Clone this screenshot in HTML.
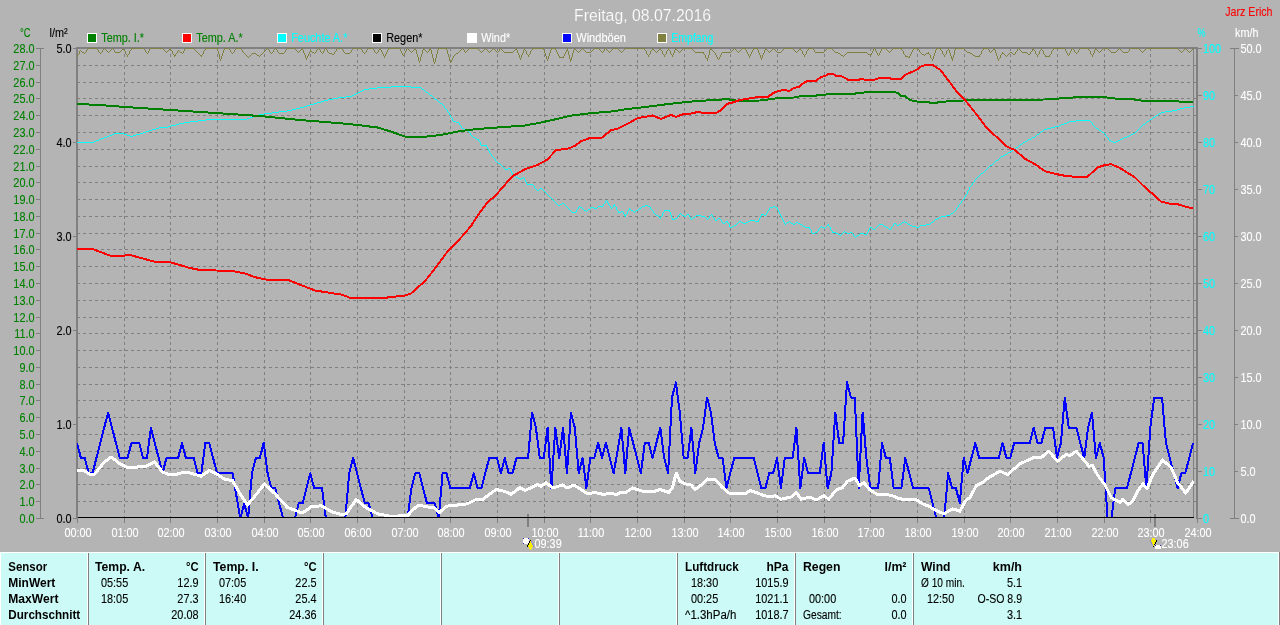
<!DOCTYPE html>
<html lang="de"><head><meta charset="utf-8"><title>Freitag, 08.07.2016</title>
<style>
html,body{margin:0;padding:0;background:#b4b4b4;overflow:hidden}
svg{display:block}
text{font-family:"Liberation Sans",Arial,sans-serif;font-size:12.5px;stroke-width:0.12px;stroke-linejoin:round}
.b{font-weight:bold}
</style></head><body>
<svg width="1280" height="625" viewBox="0 0 1280 625">
<rect x="0" y="0" width="1280" height="625" fill="#b4b4b4"/>
<g shape-rendering="crispEdges" stroke="#808080" stroke-width="1" fill="none">
<path stroke-dasharray="3 3" d="M77 65.5H1193M77 82.5H1193M77 98.5H1193M77 115.5H1193M77 132.5H1193M77 149.5H1193M77 166.5H1193M77 182.5H1193M77 199.5H1193M77 216.5H1193M77 233.5H1193M77 249.5H1193M77 266.5H1193M77 283.5H1193M77 300.5H1193M77 317.5H1193M77 333.5H1193M77 350.5H1193M77 367.5H1193M77 384.5H1193M77 400.5H1193M77 417.5H1193M77 434.5H1193M77 451.5H1193M77 468.5H1193M77 484.5H1193M77 501.5H1193"/>
<path stroke-dasharray="3 3" d="M124.5 48V517M170.5 48V517M217.5 48V517M264.5 48V517M310.5 48V517M357.5 48V517M404.5 48V517M450.5 48V517M497.5 48V517M544.5 48V517M590.5 48V517M637.5 48V517M684.5 48V517M730.5 48V517M777.5 48V517M824.5 48V517M870.5 48V517M917.5 48V517M964.5 48V517M1010.5 48V517M1057.5 48V517M1104.5 48V517M1150.5 48V517"/>
</g>
<g shape-rendering="crispEdges">
<rect x="76" y="47" width="1122" height="2" fill="#808080"/>
<rect x="76" y="47" width="2" height="472" fill="#808080"/>
<rect x="1196" y="47" width="2" height="472" fill="#808080"/>
<rect x="1193" y="49" width="1" height="469" fill="#808080"/>
<rect x="40" y="48" width="1" height="470" fill="#808080"/>
<rect x="36" y="518" width="8" height="1" fill="#808080"/>
<rect x="36" y="501" width="4" height="1" fill="#808080"/>
<rect x="36" y="484" width="4" height="1" fill="#808080"/>
<rect x="36" y="468" width="4" height="1" fill="#808080"/>
<rect x="36" y="451" width="4" height="1" fill="#808080"/>
<rect x="36" y="434" width="4" height="1" fill="#808080"/>
<rect x="36" y="417" width="4" height="1" fill="#808080"/>
<rect x="36" y="400" width="4" height="1" fill="#808080"/>
<rect x="36" y="384" width="4" height="1" fill="#808080"/>
<rect x="36" y="367" width="4" height="1" fill="#808080"/>
<rect x="36" y="350" width="4" height="1" fill="#808080"/>
<rect x="36" y="333" width="4" height="1" fill="#808080"/>
<rect x="36" y="317" width="4" height="1" fill="#808080"/>
<rect x="36" y="300" width="4" height="1" fill="#808080"/>
<rect x="36" y="283" width="4" height="1" fill="#808080"/>
<rect x="36" y="266" width="4" height="1" fill="#808080"/>
<rect x="36" y="249" width="4" height="1" fill="#808080"/>
<rect x="36" y="233" width="4" height="1" fill="#808080"/>
<rect x="36" y="216" width="4" height="1" fill="#808080"/>
<rect x="36" y="199" width="4" height="1" fill="#808080"/>
<rect x="36" y="182" width="4" height="1" fill="#808080"/>
<rect x="36" y="166" width="4" height="1" fill="#808080"/>
<rect x="36" y="149" width="4" height="1" fill="#808080"/>
<rect x="36" y="132" width="4" height="1" fill="#808080"/>
<rect x="36" y="115" width="4" height="1" fill="#808080"/>
<rect x="36" y="98" width="4" height="1" fill="#808080"/>
<rect x="36" y="82" width="4" height="1" fill="#808080"/>
<rect x="36" y="65" width="4" height="1" fill="#808080"/>
<rect x="36" y="48" width="8" height="1" fill="#808080"/>
<rect x="73" y="518" width="4" height="1" fill="#808080"/>
<rect x="73" y="424" width="4" height="1" fill="#808080"/>
<rect x="73" y="330" width="4" height="1" fill="#808080"/>
<rect x="73" y="236" width="4" height="1" fill="#808080"/>
<rect x="73" y="142" width="4" height="1" fill="#808080"/>
<rect x="73" y="48" width="4" height="1" fill="#808080"/>
<rect x="1197" y="518" width="5" height="1" fill="#808080"/>
<rect x="1197" y="471" width="5" height="1" fill="#808080"/>
<rect x="1197" y="424" width="5" height="1" fill="#808080"/>
<rect x="1197" y="377" width="5" height="1" fill="#808080"/>
<rect x="1197" y="330" width="5" height="1" fill="#808080"/>
<rect x="1197" y="283" width="5" height="1" fill="#808080"/>
<rect x="1197" y="236" width="5" height="1" fill="#808080"/>
<rect x="1197" y="189" width="5" height="1" fill="#808080"/>
<rect x="1197" y="142" width="5" height="1" fill="#808080"/>
<rect x="1197" y="95" width="5" height="1" fill="#808080"/>
<rect x="1197" y="48" width="5" height="1" fill="#808080"/>
<rect x="1193" y="65" width="4" height="1" fill="#808080"/>
<rect x="1193" y="82" width="4" height="1" fill="#808080"/>
<rect x="1193" y="98" width="4" height="1" fill="#808080"/>
<rect x="1193" y="115" width="4" height="1" fill="#808080"/>
<rect x="1193" y="132" width="4" height="1" fill="#808080"/>
<rect x="1193" y="149" width="4" height="1" fill="#808080"/>
<rect x="1193" y="166" width="4" height="1" fill="#808080"/>
<rect x="1193" y="182" width="4" height="1" fill="#808080"/>
<rect x="1193" y="199" width="4" height="1" fill="#808080"/>
<rect x="1193" y="216" width="4" height="1" fill="#808080"/>
<rect x="1193" y="233" width="4" height="1" fill="#808080"/>
<rect x="1193" y="249" width="4" height="1" fill="#808080"/>
<rect x="1193" y="266" width="4" height="1" fill="#808080"/>
<rect x="1193" y="283" width="4" height="1" fill="#808080"/>
<rect x="1193" y="300" width="4" height="1" fill="#808080"/>
<rect x="1193" y="317" width="4" height="1" fill="#808080"/>
<rect x="1193" y="333" width="4" height="1" fill="#808080"/>
<rect x="1193" y="350" width="4" height="1" fill="#808080"/>
<rect x="1193" y="367" width="4" height="1" fill="#808080"/>
<rect x="1193" y="384" width="4" height="1" fill="#808080"/>
<rect x="1193" y="400" width="4" height="1" fill="#808080"/>
<rect x="1193" y="417" width="4" height="1" fill="#808080"/>
<rect x="1193" y="434" width="4" height="1" fill="#808080"/>
<rect x="1193" y="451" width="4" height="1" fill="#808080"/>
<rect x="1193" y="468" width="4" height="1" fill="#808080"/>
<rect x="1193" y="484" width="4" height="1" fill="#808080"/>
<rect x="1193" y="501" width="4" height="1" fill="#808080"/>
<rect x="1234" y="48" width="1" height="470" fill="#808080"/>
<rect x="1230" y="518" width="9" height="1" fill="#808080"/>
<rect x="1234" y="471" width="4" height="1" fill="#808080"/>
<rect x="1234" y="424" width="4" height="1" fill="#808080"/>
<rect x="1234" y="377" width="4" height="1" fill="#808080"/>
<rect x="1234" y="330" width="4" height="1" fill="#808080"/>
<rect x="1234" y="283" width="4" height="1" fill="#808080"/>
<rect x="1234" y="236" width="4" height="1" fill="#808080"/>
<rect x="1234" y="189" width="4" height="1" fill="#808080"/>
<rect x="1234" y="142" width="4" height="1" fill="#808080"/>
<rect x="1234" y="95" width="4" height="1" fill="#808080"/>
<rect x="1230" y="48" width="9" height="1" fill="#808080"/>
<rect x="124" y="518" width="1" height="5" fill="#808080"/>
<rect x="170" y="518" width="1" height="5" fill="#808080"/>
<rect x="217" y="518" width="1" height="5" fill="#808080"/>
<rect x="264" y="518" width="1" height="5" fill="#808080"/>
<rect x="310" y="518" width="1" height="5" fill="#808080"/>
<rect x="357" y="518" width="1" height="5" fill="#808080"/>
<rect x="404" y="518" width="1" height="5" fill="#808080"/>
<rect x="450" y="518" width="1" height="5" fill="#808080"/>
<rect x="497" y="518" width="1" height="5" fill="#808080"/>
<rect x="544" y="518" width="1" height="5" fill="#808080"/>
<rect x="590" y="518" width="1" height="5" fill="#808080"/>
<rect x="637" y="518" width="1" height="5" fill="#808080"/>
<rect x="684" y="518" width="1" height="5" fill="#808080"/>
<rect x="730" y="518" width="1" height="5" fill="#808080"/>
<rect x="777" y="518" width="1" height="5" fill="#808080"/>
<rect x="824" y="518" width="1" height="5" fill="#808080"/>
<rect x="870" y="518" width="1" height="5" fill="#808080"/>
<rect x="917" y="518" width="1" height="5" fill="#808080"/>
<rect x="964" y="518" width="1" height="5" fill="#808080"/>
<rect x="1010" y="518" width="1" height="5" fill="#808080"/>
<rect x="1057" y="518" width="1" height="5" fill="#808080"/>
<rect x="1104" y="518" width="1" height="5" fill="#808080"/>
<rect x="1150" y="518" width="1" height="5" fill="#808080"/>
<rect x="77" y="518" width="1" height="5" fill="#808080"/>
<rect x="1197" y="518" width="1" height="5" fill="#808080"/>
<rect x="527" y="514" width="2" height="13" fill="#808080"/>
<rect x="1154" y="514" width="2" height="13" fill="#808080"/>
</g>
<clipPath id="cp"><rect x="77" y="48" width="1117" height="470"/></clipPath>
<g shape-rendering="crispEdges" fill="none" stroke-linejoin="round" clip-path="url(#cp)">
<path stroke="none" fill="#808040" d="M88 48h9v1h-9zM104 48h1v1h-1zM112 48h1v1h-1zM123 48h1v1h-1zM131 48h13v1h-13zM150 48h13v1h-13zM170 48h1v1h-1zM185 48h9v1h-9zM205 48h13v1h-13zM224 48h5v1h-5zM236 48h5v1h-5zM267 48h1v1h-1zM275 48h1v1h-1zM287 48h8v1h-8zM302 48h1v1h-1zM318 48h1v1h-1zM325 48h1v1h-1zM337 48h5v1h-5zM353 48h8v1h-8zM368 48h5v1h-5zM380 48h1v1h-1zM388 48h12v1h-12zM407 48h1v1h-1zM415 48h1v1h-1zM423 48h1v1h-1zM430 48h1v1h-1zM438 48h9v1h-9zM462 48h1v1h-1zM469 48h9v1h-9zM485 48h1v1h-1zM493 48h1v1h-1zM500 48h1v1h-1zM516 48h1v1h-1zM524 48h1v1h-1zM532 48h12v1h-12zM551 48h5v1h-5zM567 48h1v1h-1zM574 48h1v1h-1zM582 48h1v1h-1zM594 48h5v1h-5zM605 48h1v1h-1zM613 48h5v1h-5zM625 48h20v1h-20zM652 48h1v1h-1zM660 48h1v1h-1zM668 48h1v1h-1zM675 48h1v1h-1zM683 48h9v1h-9zM710 48h1v1h-1zM734 48h1v1h-1zM742 48h4v1h-4zM753 48h5v1h-5zM765 48h1v1h-1zM773 48h1v1h-1zM784 48h9v1h-9zM800 48h1v1h-1zM808 48h5v1h-5zM827 48h5v1h-5zM874 48h1v1h-1zM882 48h4v1h-4zM893 48h9v1h-9zM913 48h5v1h-5zM936 48h5v1h-5zM948 48h1v1h-1zM955 48h9v1h-9zM983 48h5v1h-5zM994 48h1v1h-1zM1018 48h1v1h-1zM1033 48h1v1h-1zM1041 48h1v1h-1zM1053 48h12v1h-12zM1072 48h1v1h-1zM1080 48h9v1h-9zM1095 48h1v1h-1zM1103 48h5v1h-5zM1119 48h1v1h-1zM1130 48h9v1h-9zM1146 48h32v1h-32zM1185 48h1v1h-1zM1193 48h1v1h-1zM87 49h1v1h-1zM97 49h1v1h-1zM103 49h1v1h-1zM105 49h1v1h-1zM111 49h1v1h-1zM113 49h1v1h-1zM122 49h2v1h-2zM131 49h1v1h-1zM144 49h1v1h-1zM149 49h1v1h-1zM163 49h1v1h-1zM169 49h2v1h-2zM184 49h1v1h-1zM194 49h1v1h-1zM205 49h1v1h-1zM217 49h1v1h-1zM224 49h1v1h-1zM229 49h1v1h-1zM235 49h1v1h-1zM241 49h1v1h-1zM266 49h1v1h-1zM268 49h1v1h-1zM274 49h1v1h-1zM276 49h1v1h-1zM286 49h1v1h-1zM295 49h1v1h-1zM301 49h2v1h-2zM317 49h1v1h-1zM319 49h1v1h-1zM324 49h1v1h-1zM326 49h1v1h-1zM336 49h1v1h-1zM342 49h1v1h-1zM352 49h1v1h-1zM361 49h1v1h-1zM367 49h1v1h-1zM373 49h1v1h-1zM379 49h2v1h-2zM388 49h1v1h-1zM400 49h1v1h-1zM406 49h1v1h-1zM408 49h1v1h-1zM414 49h2v1h-2zM423 49h2v1h-2zM429 49h2v1h-2zM438 49h1v1h-1zM446 49h1v1h-1zM461 49h1v1h-1zM463 49h1v1h-1zM468 49h1v1h-1zM478 49h1v1h-1zM484 49h1v1h-1zM486 49h1v1h-1zM492 49h1v1h-1zM494 49h1v1h-1zM499 49h1v1h-1zM501 49h1v1h-1zM515 49h2v1h-2zM524 49h1v1h-1zM532 49h1v1h-1zM543 49h1v1h-1zM551 49h1v1h-1zM555 49h1v1h-1zM567 49h1v1h-1zM574 49h2v1h-2zM581 49h1v1h-1zM583 49h1v1h-1zM593 49h1v1h-1zM599 49h1v1h-1zM604 49h1v1h-1zM606 49h1v1h-1zM612 49h1v1h-1zM618 49h1v1h-1zM624 49h1v1h-1zM644 49h1v1h-1zM652 49h2v1h-2zM659 49h2v1h-2zM668 49h1v1h-1zM675 49h2v1h-2zM682 49h1v1h-1zM692 49h1v1h-1zM710 49h2v1h-2zM733 49h1v1h-1zM735 49h1v1h-1zM741 49h1v1h-1zM745 49h1v1h-1zM753 49h1v1h-1zM757 49h1v1h-1zM765 49h2v1h-2zM772 49h1v1h-1zM774 49h1v1h-1zM783 49h1v1h-1zM793 49h1v1h-1zM799 49h2v1h-2zM808 49h1v1h-1zM813 49h1v1h-1zM826 49h1v1h-1zM832 49h1v1h-1zM873 49h1v1h-1zM875 49h1v1h-1zM881 49h1v1h-1zM886 49h1v1h-1zM892 49h1v1h-1zM901 49h1v1h-1zM913 49h1v1h-1zM918 49h1v1h-1zM936 49h1v1h-1zM940 49h1v1h-1zM948 49h1v1h-1zM955 49h1v1h-1zM964 49h1v1h-1zM983 49h1v1h-1zM988 49h1v1h-1zM993 49h2v1h-2zM1017 49h1v1h-1zM1019 49h1v1h-1zM1032 49h2v1h-2zM1041 49h1v1h-1zM1053 49h1v1h-1zM1065 49h1v1h-1zM1071 49h1v1h-1zM1073 49h1v1h-1zM1079 49h1v1h-1zM1088 49h1v1h-1zM1095 49h2v1h-2zM1102 49h1v1h-1zM1108 49h1v1h-1zM1118 49h1v1h-1zM1120 49h1v1h-1zM1129 49h1v1h-1zM1139 49h1v1h-1zM1145 49h1v1h-1zM1178 49h1v1h-1zM1184 49h1v1h-1zM1186 49h1v1h-1zM1192 49h1v1h-1zM80 50h1v1h-1zM86 50h1v1h-1zM98 50h1v1h-1zM102 50h1v1h-1zM106 50h1v1h-1zM110 50h1v1h-1zM114 50h1v1h-1zM121 50h1v1h-1zM124 50h1v1h-1zM130 50h1v1h-1zM145 50h1v1h-1zM149 50h1v1h-1zM164 50h1v1h-1zM168 50h1v1h-1zM171 50h1v1h-1zM178 50h1v1h-1zM184 50h1v1h-1zM195 50h1v1h-1zM204 50h1v1h-1zM217 50h1v1h-1zM223 50h1v1h-1zM230 50h1v1h-1zM234 50h1v1h-1zM242 50h1v1h-1zM265 50h1v1h-1zM269 50h1v1h-1zM273 50h1v1h-1zM277 50h1v1h-1zM285 50h1v1h-1zM296 50h1v1h-1zM300 50h1v1h-1zM303 50h1v1h-1zM310 50h1v1h-1zM316 50h1v1h-1zM320 50h1v1h-1zM324 50h1v1h-1zM327 50h1v1h-1zM336 50h1v1h-1zM343 50h1v1h-1zM351 50h1v1h-1zM362 50h1v1h-1zM366 50h1v1h-1zM374 50h1v1h-1zM378 50h1v1h-1zM381 50h1v1h-1zM387 50h1v1h-1zM400 50h1v1h-1zM406 50h1v1h-1zM409 50h1v1h-1zM413 50h1v1h-1zM416 50h1v1h-1zM422 50h1v1h-1zM425 50h1v1h-1zM429 50h1v1h-1zM431 50h1v1h-1zM437 50h1v1h-1zM447 50h1v1h-1zM460 50h1v1h-1zM464 50h1v1h-1zM467 50h1v1h-1zM479 50h1v1h-1zM483 50h1v1h-1zM487 50h1v1h-1zM491 50h1v1h-1zM495 50h1v1h-1zM499 50h1v1h-1zM502 50h1v1h-1zM514 50h1v1h-1zM517 50h1v1h-1zM523 50h1v1h-1zM525 50h1v1h-1zM531 50h1v1h-1zM544 50h1v1h-1zM550 50h1v1h-1zM556 50h1v1h-1zM566 50h2v1h-2zM573 50h1v1h-1zM576 50h1v1h-1zM580 50h1v1h-1zM584 50h1v1h-1zM592 50h1v1h-1zM600 50h1v1h-1zM604 50h1v1h-1zM607 50h1v1h-1zM611 50h1v1h-1zM619 50h1v1h-1zM623 50h1v1h-1zM645 50h1v1h-1zM651 50h1v1h-1zM654 50h1v1h-1zM658 50h1v1h-1zM661 50h1v1h-1zM667 50h1v1h-1zM669 50h1v1h-1zM674 50h1v1h-1zM677 50h1v1h-1zM681 50h1v1h-1zM693 50h1v1h-1zM709 50h1v1h-1zM712 50h1v1h-1zM732 50h1v1h-1zM736 50h1v1h-1zM740 50h1v1h-1zM746 50h1v1h-1zM752 50h1v1h-1zM758 50h1v1h-1zM764 50h1v1h-1zM767 50h1v1h-1zM771 50h1v1h-1zM775 50h1v1h-1zM782 50h1v1h-1zM794 50h1v1h-1zM798 50h1v1h-1zM801 50h1v1h-1zM807 50h1v1h-1zM814 50h1v1h-1zM825 50h1v1h-1zM833 50h1v1h-1zM873 50h1v1h-1zM875 50h1v1h-1zM881 50h1v1h-1zM887 50h1v1h-1zM891 50h1v1h-1zM902 50h1v1h-1zM912 50h1v1h-1zM919 50h1v1h-1zM935 50h1v1h-1zM941 50h1v1h-1zM947 50h1v1h-1zM949 50h1v1h-1zM954 50h1v1h-1zM965 50h1v1h-1zM982 50h1v1h-1zM989 50h1v1h-1zM992 50h1v1h-1zM995 50h1v1h-1zM1017 50h1v1h-1zM1020 50h1v1h-1zM1032 50h1v1h-1zM1034 50h1v1h-1zM1040 50h1v1h-1zM1042 50h1v1h-1zM1052 50h1v1h-1zM1065 50h1v1h-1zM1071 50h1v1h-1zM1074 50h1v1h-1zM1078 50h1v1h-1zM1089 50h1v1h-1zM1094 50h1v1h-1zM1097 50h1v1h-1zM1101 50h1v1h-1zM1109 50h1v1h-1zM1117 50h1v1h-1zM1121 50h1v1h-1zM1129 50h1v1h-1zM1140 50h1v1h-1zM1144 50h1v1h-1zM1179 50h1v1h-1zM1183 50h1v1h-1zM1187 50h1v1h-1zM1191 50h1v1h-1zM79 51h1v1h-1zM81 51h1v1h-1zM86 51h1v1h-1zM98 51h1v1h-1zM102 51h1v1h-1zM107 51h1v1h-1zM109 51h1v1h-1zM114 51h1v1h-1zM120 51h1v1h-1zM125 51h1v1h-1zM129 51h1v1h-1zM145 51h1v1h-1zM148 51h1v1h-1zM165 51h1v1h-1zM167 51h1v1h-1zM172 51h1v1h-1zM177 51h1v1h-1zM179 51h1v1h-1zM183 51h1v1h-1zM196 51h1v1h-1zM203 51h1v1h-1zM218 51h1v1h-1zM223 51h1v1h-1zM230 51h1v1h-1zM234 51h1v1h-1zM242 51h1v1h-1zM264 51h1v1h-1zM269 51h1v1h-1zM273 51h1v1h-1zM277 51h1v1h-1zM285 51h1v1h-1zM297 51h1v1h-1zM299 51h1v1h-1zM303 51h1v1h-1zM310 51h2v1h-2zM316 51h1v1h-1zM320 51h1v1h-1zM323 51h1v1h-1zM327 51h1v1h-1zM335 51h1v1h-1zM343 51h1v1h-1zM351 51h1v1h-1zM362 51h1v1h-1zM366 51h1v1h-1zM374 51h1v1h-1zM378 51h1v1h-1zM381 51h1v1h-1zM387 51h1v1h-1zM401 51h1v1h-1zM405 51h1v1h-1zM410 51h1v1h-1zM412 51h1v1h-1zM416 51h1v1h-1zM422 51h1v1h-1zM426 51h1v1h-1zM428 51h1v1h-1zM431 51h1v1h-1zM437 51h1v1h-1zM447 51h1v1h-1zM459 51h1v1h-1zM464 51h1v1h-1zM466 51h1v1h-1zM480 51h1v1h-1zM482 51h1v1h-1zM488 51h1v1h-1zM490 51h1v1h-1zM496 51h1v1h-1zM498 51h1v1h-1zM503 51h1v1h-1zM513 51h1v1h-1zM517 51h1v1h-1zM523 51h1v1h-1zM526 51h1v1h-1zM530 51h1v1h-1zM544 51h1v1h-1zM550 51h1v1h-1zM556 51h1v1h-1zM566 51h1v1h-1zM568 51h1v1h-1zM573 51h1v1h-1zM577 51h1v1h-1zM579 51h1v1h-1zM585 51h1v1h-1zM591 51h1v1h-1zM601 51h1v1h-1zM603 51h1v1h-1zM608 51h1v1h-1zM610 51h1v1h-1zM620 51h1v1h-1zM622 51h1v1h-1zM646 51h1v1h-1zM650 51h1v1h-1zM655 51h1v1h-1zM657 51h1v1h-1zM662 51h1v1h-1zM666 51h1v1h-1zM670 51h1v1h-1zM674 51h1v1h-1zM678 51h1v1h-1zM680 51h1v1h-1zM694 51h1v1h-1zM709 51h1v1h-1zM713 51h1v1h-1zM731 51h1v1h-1zM737 51h1v1h-1zM739 51h1v1h-1zM746 51h1v1h-1zM752 51h1v1h-1zM758 51h1v1h-1zM764 51h1v1h-1zM768 51h1v1h-1zM770 51h1v1h-1zM776 51h1v1h-1zM781 51h1v1h-1zM795 51h1v1h-1zM797 51h1v1h-1zM802 51h1v1h-1zM806 51h1v1h-1zM814 51h1v1h-1zM824 51h1v1h-1zM834 51h1v1h-1zM872 51h1v1h-1zM876 51h1v1h-1zM880 51h1v1h-1zM888 51h1v1h-1zM890 51h1v1h-1zM903 51h1v1h-1zM912 51h1v1h-1zM919 51h1v1h-1zM935 51h1v1h-1zM942 51h1v1h-1zM946 51h1v1h-1zM949 51h1v1h-1zM954 51h1v1h-1zM966 51h1v1h-1zM981 51h1v1h-1zM989 51h1v1h-1zM991 51h1v1h-1zM995 51h1v1h-1zM1016 51h1v1h-1zM1021 51h1v1h-1zM1031 51h1v1h-1zM1035 51h1v1h-1zM1039 51h1v1h-1zM1043 51h1v1h-1zM1051 51h1v1h-1zM1066 51h1v1h-1zM1070 51h1v1h-1zM1074 51h1v1h-1zM1078 51h1v1h-1zM1090 51h1v1h-1zM1094 51h1v1h-1zM1098 51h1v1h-1zM1100 51h1v1h-1zM1110 51h1v1h-1zM1116 51h1v1h-1zM1122 51h1v1h-1zM1128 51h1v1h-1zM1141 51h1v1h-1zM1143 51h1v1h-1zM1180 51h1v1h-1zM1182 51h1v1h-1zM1188 51h1v1h-1zM1190 51h1v1h-1zM79 52h1v1h-1zM82 52h2v1h-2zM85 52h1v1h-1zM99 52h1v1h-1zM101 52h1v1h-1zM108 52h1v1h-1zM115 52h5v1h-5zM125 52h1v1h-1zM129 52h1v1h-1zM146 52h1v1h-1zM148 52h1v1h-1zM166 52h1v1h-1zM172 52h1v1h-1zM177 52h1v1h-1zM180 52h2v1h-2zM183 52h1v1h-1zM197 52h1v1h-1zM203 52h1v1h-1zM218 52h1v1h-1zM223 52h1v1h-1zM231 52h1v1h-1zM233 52h1v1h-1zM243 52h1v1h-1zM263 52h1v1h-1zM270 52h1v1h-1zM272 52h1v1h-1zM278 52h1v1h-1zM284 52h1v1h-1zM298 52h1v1h-1zM303 52h1v1h-1zM309 52h1v1h-1zM312 52h2v1h-2zM315 52h1v1h-1zM321 52h1v1h-1zM323 52h1v1h-1zM328 52h1v1h-1zM334 52h1v1h-1zM344 52h1v1h-1zM350 52h1v1h-1zM363 52h1v1h-1zM365 52h1v1h-1zM375 52h1v1h-1zM377 52h1v1h-1zM382 52h1v1h-1zM386 52h1v1h-1zM401 52h1v1h-1zM405 52h1v1h-1zM411 52h1v1h-1zM416 52h1v1h-1zM422 52h1v1h-1zM427 52h1v1h-1zM431 52h1v1h-1zM437 52h1v1h-1zM447 52h1v1h-1zM458 52h1v1h-1zM465 52h1v1h-1zM481 52h1v1h-1zM489 52h1v1h-1zM497 52h1v1h-1zM504 52h9v1h-9zM517 52h1v1h-1zM523 52h1v1h-1zM526 52h1v1h-1zM530 52h1v1h-1zM544 52h1v1h-1zM550 52h1v1h-1zM557 52h1v1h-1zM565 52h1v1h-1zM568 52h1v1h-1zM573 52h1v1h-1zM578 52h1v1h-1zM586 52h5v1h-5zM602 52h1v1h-1zM609 52h1v1h-1zM621 52h1v1h-1zM646 52h1v1h-1zM650 52h1v1h-1zM656 52h1v1h-1zM662 52h1v1h-1zM666 52h1v1h-1zM670 52h1v1h-1zM674 52h1v1h-1zM679 52h1v1h-1zM695 52h9v1h-9zM709 52h1v1h-1zM714 52h1v1h-1zM722 52h9v1h-9zM738 52h1v1h-1zM747 52h1v1h-1zM751 52h1v1h-1zM758 52h1v1h-1zM764 52h1v1h-1zM769 52h1v1h-1zM777 52h4v1h-4zM796 52h1v1h-1zM802 52h1v1h-1zM806 52h1v1h-1zM815 52h9v1h-9zM835 52h3v1h-3zM847 52h20v1h-20zM872 52h1v1h-1zM876 52h1v1h-1zM880 52h1v1h-1zM889 52h1v1h-1zM903 52h1v1h-1zM911 52h1v1h-1zM920 52h1v1h-1zM928 52h1v1h-1zM935 52h1v1h-1zM942 52h1v1h-1zM946 52h1v1h-1zM949 52h1v1h-1zM954 52h1v1h-1zM967 52h3v1h-3zM981 52h1v1h-1zM990 52h1v1h-1zM995 52h1v1h-1zM1002 52h1v1h-1zM1010 52h2v1h-2zM1015 52h1v1h-1zM1022 52h5v1h-5zM1030 52h1v1h-1zM1035 52h1v1h-1zM1039 52h1v1h-1zM1043 52h1v1h-1zM1051 52h1v1h-1zM1066 52h1v1h-1zM1070 52h1v1h-1zM1075 52h1v1h-1zM1077 52h1v1h-1zM1090 52h1v1h-1zM1094 52h1v1h-1zM1099 52h1v1h-1zM1111 52h5v1h-5zM1123 52h5v1h-5zM1142 52h1v1h-1zM1181 52h1v1h-1zM1189 52h1v1h-1zM79 53h1v1h-1zM84 53h1v1h-1zM100 53h1v1h-1zM125 53h1v1h-1zM129 53h1v1h-1zM147 53h1v1h-1zM172 53h1v1h-1zM176 53h1v1h-1zM182 53h1v1h-1zM198 53h1v1h-1zM203 53h1v1h-1zM218 53h1v1h-1zM222 53h1v1h-1zM232 53h1v1h-1zM244 53h1v1h-1zM252 53h4v1h-4zM262 53h1v1h-1zM271 53h1v1h-1zM279 53h5v1h-5zM304 53h1v1h-1zM309 53h1v1h-1zM314 53h1v1h-1zM322 53h1v1h-1zM329 53h3v1h-3zM334 53h1v1h-1zM345 53h5v1h-5zM364 53h1v1h-1zM376 53h1v1h-1zM382 53h1v1h-1zM386 53h1v1h-1zM402 53h1v1h-1zM404 53h1v1h-1zM416 53h1v1h-1zM422 53h1v1h-1zM431 53h1v1h-1zM437 53h1v1h-1zM447 53h1v1h-1zM456 53h2v1h-2zM518 53h1v1h-1zM522 53h1v1h-1zM526 53h1v1h-1zM530 53h1v1h-1zM545 53h1v1h-1zM549 53h1v1h-1zM557 53h1v1h-1zM565 53h1v1h-1zM568 53h1v1h-1zM572 53h1v1h-1zM646 53h1v1h-1zM650 53h1v1h-1zM662 53h1v1h-1zM666 53h1v1h-1zM670 53h1v1h-1zM673 53h1v1h-1zM703 53h1v1h-1zM709 53h1v1h-1zM715 53h1v1h-1zM721 53h1v1h-1zM747 53h1v1h-1zM751 53h1v1h-1zM759 53h1v1h-1zM763 53h1v1h-1zM802 53h1v1h-1zM806 53h1v1h-1zM838 53h2v1h-2zM846 53h1v1h-1zM867 53h1v1h-1zM871 53h1v1h-1zM877 53h1v1h-1zM879 53h1v1h-1zM903 53h1v1h-1zM911 53h1v1h-1zM921 53h1v1h-1zM926 53h3v1h-3zM934 53h1v1h-1zM942 53h1v1h-1zM946 53h1v1h-1zM950 53h1v1h-1zM954 53h1v1h-1zM970 53h2v1h-2zM981 53h1v1h-1zM996 53h1v1h-1zM1002 53h2v1h-2zM1009 53h1v1h-1zM1012 53h1v1h-1zM1015 53h1v1h-1zM1027 53h1v1h-1zM1030 53h1v1h-1zM1035 53h1v1h-1zM1039 53h1v1h-1zM1043 53h1v1h-1zM1051 53h1v1h-1zM1067 53h1v1h-1zM1069 53h1v1h-1zM1076 53h1v1h-1zM1090 53h1v1h-1zM1093 53h1v1h-1zM78 54h1v1h-1zM126 54h1v1h-1zM128 54h1v1h-1zM173 54h1v1h-1zM175 54h1v1h-1zM199 54h1v1h-1zM202 54h1v1h-1zM219 54h1v1h-1zM222 54h1v1h-1zM245 54h1v1h-1zM251 54h1v1h-1zM256 54h1v1h-1zM261 54h1v1h-1zM304 54h1v1h-1zM308 54h1v1h-1zM332 54h2v1h-2zM383 54h1v1h-1zM385 54h1v1h-1zM402 54h1v1h-1zM404 54h1v1h-1zM417 54h1v1h-1zM421 54h1v1h-1zM432 54h1v1h-1zM436 54h1v1h-1zM448 54h1v1h-1zM455 54h1v1h-1zM518 54h1v1h-1zM522 54h1v1h-1zM527 54h1v1h-1zM529 54h1v1h-1zM545 54h1v1h-1zM549 54h1v1h-1zM558 54h1v1h-1zM564 54h1v1h-1zM568 54h1v1h-1zM572 54h1v1h-1zM647 54h1v1h-1zM649 54h1v1h-1zM663 54h1v1h-1zM665 54h1v1h-1zM671 54h1v1h-1zM673 54h1v1h-1zM704 54h1v1h-1zM709 54h1v1h-1zM715 54h1v1h-1zM721 54h1v1h-1zM748 54h1v1h-1zM750 54h1v1h-1zM759 54h1v1h-1zM763 54h1v1h-1zM803 54h1v1h-1zM805 54h1v1h-1zM840 54h1v1h-1zM845 54h1v1h-1zM868 54h2v1h-2zM871 54h1v1h-1zM877 54h1v1h-1zM879 54h1v1h-1zM904 54h1v1h-1zM910 54h1v1h-1zM922 54h2v1h-2zM925 54h1v1h-1zM929 54h1v1h-1zM934 54h1v1h-1zM943 54h1v1h-1zM945 54h1v1h-1zM950 54h1v1h-1zM954 54h1v1h-1zM972 54h1v1h-1zM980 54h1v1h-1zM996 54h1v1h-1zM1001 54h1v1h-1zM1004 54h1v1h-1zM1008 54h1v1h-1zM1013 54h2v1h-2zM1028 54h2v1h-2zM1036 54h1v1h-1zM1038 54h1v1h-1zM1044 54h1v1h-1zM1050 54h1v1h-1zM1067 54h1v1h-1zM1069 54h1v1h-1zM1091 54h1v1h-1zM1093 54h1v1h-1zM77 55h1v1h-1zM127 55h1v1h-1zM174 55h2v1h-2zM200 55h2v1h-2zM219 55h1v1h-1zM222 55h1v1h-1zM246 55h1v1h-1zM250 55h1v1h-1zM257 55h2v1h-2zM260 55h1v1h-1zM305 55h1v1h-1zM308 55h1v1h-1zM383 55h1v1h-1zM385 55h1v1h-1zM403 55h1v1h-1zM417 55h1v1h-1zM421 55h1v1h-1zM432 55h1v1h-1zM436 55h1v1h-1zM448 55h1v1h-1zM454 55h1v1h-1zM519 55h1v1h-1zM521 55h1v1h-1zM528 55h1v1h-1zM545 55h1v1h-1zM549 55h1v1h-1zM558 55h1v1h-1zM564 55h1v1h-1zM569 55h1v1h-1zM572 55h1v1h-1zM648 55h1v1h-1zM664 55h1v1h-1zM672 55h1v1h-1zM705 55h1v1h-1zM708 55h1v1h-1zM716 55h1v1h-1zM720 55h1v1h-1zM748 55h1v1h-1zM750 55h1v1h-1zM760 55h1v1h-1zM762 55h1v1h-1zM804 55h1v1h-1zM841 55h2v1h-2zM844 55h1v1h-1zM870 55h1v1h-1zM878 55h1v1h-1zM905 55h1v1h-1zM910 55h1v1h-1zM924 55h1v1h-1zM930 55h1v1h-1zM934 55h1v1h-1zM944 55h1v1h-1zM950 55h1v1h-1zM953 55h1v1h-1zM973 55h2v1h-2zM979 55h1v1h-1zM996 55h1v1h-1zM1000 55h1v1h-1zM1005 55h1v1h-1zM1007 55h1v1h-1zM1037 55h1v1h-1zM1045 55h1v1h-1zM1049 55h1v1h-1zM1068 55h1v1h-1zM1092 55h1v1h-1zM77 56h1v1h-1zM127 56h1v1h-1zM174 56h1v1h-1zM201 56h1v1h-1zM219 56h1v1h-1zM221 56h1v1h-1zM247 56h1v1h-1zM249 56h1v1h-1zM259 56h1v1h-1zM305 56h1v1h-1zM307 56h1v1h-1zM384 56h1v1h-1zM417 56h1v1h-1zM421 56h1v1h-1zM432 56h1v1h-1zM436 56h1v1h-1zM448 56h1v1h-1zM453 56h1v1h-1zM519 56h1v1h-1zM521 56h1v1h-1zM528 56h1v1h-1zM546 56h1v1h-1zM548 56h1v1h-1zM559 56h1v1h-1zM563 56h1v1h-1zM569 56h1v1h-1zM572 56h1v1h-1zM648 56h1v1h-1zM664 56h1v1h-1zM672 56h1v1h-1zM705 56h1v1h-1zM708 56h1v1h-1zM716 56h1v1h-1zM720 56h1v1h-1zM749 56h1v1h-1zM760 56h1v1h-1zM762 56h1v1h-1zM804 56h1v1h-1zM843 56h1v1h-1zM905 56h3v1h-3zM909 56h1v1h-1zM930 56h1v1h-1zM933 56h1v1h-1zM944 56h1v1h-1zM951 56h1v1h-1zM953 56h1v1h-1zM975 56h5v1h-5zM997 56h1v1h-1zM1000 56h1v1h-1zM1006 56h1v1h-1zM1037 56h1v1h-1zM1045 56h5v1h-5zM1092 56h1v1h-1zM219 57h1v1h-1zM221 57h1v1h-1zM248 57h1v1h-1zM305 57h1v1h-1zM307 57h1v1h-1zM384 57h1v1h-1zM418 57h1v1h-1zM420 57h1v1h-1zM432 57h1v1h-1zM436 57h1v1h-1zM449 57h1v1h-1zM453 57h1v1h-1zM519 57h1v1h-1zM521 57h1v1h-1zM546 57h1v1h-1zM548 57h1v1h-1zM559 57h5v1h-5zM569 57h1v1h-1zM571 57h1v1h-1zM705 57h1v1h-1zM708 57h1v1h-1zM717 57h1v1h-1zM719 57h1v1h-1zM749 57h1v1h-1zM760 57h1v1h-1zM762 57h1v1h-1zM908 57h2v1h-2zM930 57h1v1h-1zM933 57h1v1h-1zM951 57h1v1h-1zM953 57h1v1h-1zM997 57h1v1h-1zM1000 57h1v1h-1zM219 58h1v1h-1zM221 58h1v1h-1zM306 58h1v1h-1zM418 58h1v1h-1zM420 58h1v1h-1zM433 58h1v1h-1zM435 58h1v1h-1zM449 58h1v1h-1zM452 58h1v1h-1zM520 58h1v1h-1zM546 58h1v1h-1zM548 58h1v1h-1zM569 58h1v1h-1zM571 58h1v1h-1zM706 58h2v1h-2zM717 58h1v1h-1zM719 58h1v1h-1zM761 58h1v1h-1zM931 58h1v1h-1zM933 58h1v1h-1zM951 58h2v1h-2zM997 58h1v1h-1zM999 58h1v1h-1zM220 59h1v1h-1zM306 59h1v1h-1zM418 59h1v1h-1zM420 59h1v1h-1zM433 59h1v1h-1zM435 59h1v1h-1zM449 59h1v1h-1zM452 59h1v1h-1zM520 59h1v1h-1zM547 59h1v1h-1zM570 59h2v1h-2zM707 59h1v1h-1zM718 59h1v1h-1zM761 59h1v1h-1zM932 59h1v1h-1zM952 59h1v1h-1zM998 59h1v1h-1zM220 60h1v1h-1zM418 60h1v1h-1zM420 60h1v1h-1zM433 60h1v1h-1zM435 60h1v1h-1zM449 60h1v1h-1zM451 60h1v1h-1zM547 60h1v1h-1zM570 60h1v1h-1zM707 60h1v1h-1zM932 60h1v1h-1zM952 60h1v1h-1zM998 60h1v1h-1zM419 61h1v1h-1zM433 61h1v1h-1zM435 61h1v1h-1zM450 61h2v1h-2zM570 61h1v1h-1zM419 62h1v1h-1zM434 62h1v1h-1zM450 62h1v1h-1zM434 63h1v1h-1z"/>
<path stroke="none" fill="#00ffff" d="M391 86h20v1h-20zM377 87h14v1h-14zM411 87h10v1h-10zM369 88h8v1h-8zM421 88h1v1h-1zM364 89h5v1h-5zM422 89h2v1h-2zM362 90h2v1h-2zM424 90h1v1h-1zM360 91h2v1h-2zM425 91h1v1h-1zM358 92h2v1h-2zM426 92h2v1h-2zM356 93h2v1h-2zM428 93h1v1h-1zM354 94h2v1h-2zM429 94h1v1h-1zM352 95h2v1h-2zM430 95h2v1h-2zM346 96h6v1h-6zM432 96h1v1h-1zM338 97h8v1h-8zM433 97h1v1h-1zM333 98h5v1h-5zM434 98h1v1h-1zM328 99h5v1h-5zM435 99h2v1h-2zM324 100h4v1h-4zM437 100h1v1h-1zM321 101h3v1h-3zM438 101h1v1h-1zM317 102h4v1h-4zM439 102h1v1h-1zM314 103h3v1h-3zM440 103h2v1h-2zM310 104h4v1h-4zM442 104h1v1h-1zM307 105h3v1h-3zM443 105h1v1h-1zM304 106h3v1h-3zM444 106h1v1h-1zM1190 106h4v1h-4zM300 107h4v1h-4zM444 107h1v1h-1zM1184 107h6v1h-6zM296 108h4v1h-4zM445 108h1v1h-1zM1180 108h4v1h-4zM292 109h4v1h-4zM446 109h1v1h-1zM1177 109h3v1h-3zM287 110h5v1h-5zM447 110h1v1h-1zM1172 110h5v1h-5zM279 111h8v1h-8zM447 111h1v1h-1zM1165 111h7v1h-7zM272 112h7v1h-7zM448 112h1v1h-1zM1161 112h4v1h-4zM264 113h8v1h-8zM449 113h1v1h-1zM1159 113h2v1h-2zM259 114h5v1h-5zM449 114h1v1h-1zM1158 114h1v1h-1zM256 115h3v1h-3zM450 115h1v1h-1zM1156 115h2v1h-2zM253 116h3v1h-3zM450 116h1v1h-1zM1155 116h1v1h-1zM250 117h3v1h-3zM451 117h1v1h-1zM1153 117h2v1h-2zM247 118h3v1h-3zM452 118h1v1h-1zM1152 118h1v1h-1zM206 119h41v1h-41zM452 119h1v1h-1zM1150 119h2v1h-2zM198 120h8v1h-8zM452 120h1v1h-1zM1076 120h14v1h-14zM1149 120h1v1h-1zM190 121h8v1h-8zM453 121h3v1h-3zM1069 121h7v1h-7zM1090 121h1v1h-1zM1147 121h2v1h-2zM184 122h6v1h-6zM456 122h3v1h-3zM1067 122h2v1h-2zM1091 122h1v1h-1zM1146 122h1v1h-1zM179 123h5v1h-5zM459 123h1v1h-1zM1064 123h3v1h-3zM1092 123h1v1h-1zM1145 123h1v1h-1zM176 124h3v1h-3zM459 124h1v1h-1zM1061 124h3v1h-3zM1092 124h1v1h-1zM1143 124h2v1h-2zM171 125h5v1h-5zM460 125h1v1h-1zM1059 125h2v1h-2zM1093 125h1v1h-1zM1142 125h1v1h-1zM168 126h3v1h-3zM461 126h1v1h-1zM1055 126h4v1h-4zM1094 126h1v1h-1zM1141 126h1v1h-1zM159 127h9v1h-9zM461 127h1v1h-1zM1051 127h4v1h-4zM1095 127h1v1h-1zM1140 127h1v1h-1zM156 128h3v1h-3zM462 128h2v1h-2zM1047 128h4v1h-4zM1096 128h2v1h-2zM1139 128h1v1h-1zM152 129h4v1h-4zM464 129h1v1h-1zM1044 129h3v1h-3zM1098 129h1v1h-1zM1138 129h1v1h-1zM149 130h3v1h-3zM465 130h3v1h-3zM1043 130h1v1h-1zM1099 130h2v1h-2zM1137 130h1v1h-1zM146 131h3v1h-3zM468 131h1v1h-1zM1041 131h2v1h-2zM1101 131h1v1h-1zM1136 131h1v1h-1zM143 132h3v1h-3zM469 132h1v1h-1zM1040 132h1v1h-1zM1102 132h2v1h-2zM1135 132h1v1h-1zM114 133h10v1h-10zM140 133h3v1h-3zM470 133h1v1h-1zM1039 133h1v1h-1zM1104 133h1v1h-1zM1133 133h2v1h-2zM112 134h2v1h-2zM124 134h3v1h-3zM136 134h4v1h-4zM470 134h1v1h-1zM1037 134h2v1h-2zM1105 134h1v1h-1zM1131 134h2v1h-2zM109 135h3v1h-3zM127 135h3v1h-3zM133 135h3v1h-3zM471 135h1v1h-1zM1036 135h1v1h-1zM1105 135h1v1h-1zM1129 135h2v1h-2zM107 136h2v1h-2zM130 136h3v1h-3zM472 136h1v1h-1zM1035 136h1v1h-1zM1106 136h1v1h-1zM1127 136h2v1h-2zM104 137h3v1h-3zM473 137h2v1h-2zM1032 137h3v1h-3zM1107 137h1v1h-1zM1124 137h3v1h-3zM101 138h3v1h-3zM475 138h2v1h-2zM1031 138h1v1h-1zM1108 138h1v1h-1zM1122 138h2v1h-2zM99 139h2v1h-2zM477 139h2v1h-2zM1028 139h3v1h-3zM1108 139h1v1h-1zM1120 139h2v1h-2zM96 140h3v1h-3zM478 140h1v1h-1zM1027 140h1v1h-1zM1109 140h2v1h-2zM1118 140h2v1h-2zM94 141h2v1h-2zM479 141h1v1h-1zM1025 141h2v1h-2zM1111 141h2v1h-2zM1116 141h2v1h-2zM77 142h17v1h-17zM480 142h1v1h-1zM1023 142h2v1h-2zM1113 142h3v1h-3zM480 143h1v1h-1zM1022 143h1v1h-1zM480 144h1v1h-1zM1020 144h2v1h-2zM481 145h6v1h-6zM1019 145h1v1h-1zM486 146h1v1h-1zM1018 146h1v1h-1zM487 147h1v1h-1zM1016 147h2v1h-2zM487 148h1v1h-1zM1015 148h1v1h-1zM488 149h1v1h-1zM1013 149h2v1h-2zM488 150h1v1h-1zM1012 150h1v1h-1zM489 151h1v1h-1zM1010 151h2v1h-2zM489 152h1v1h-1zM1008 152h2v1h-2zM490 153h1v1h-1zM1007 153h1v1h-1zM491 154h1v1h-1zM1005 154h2v1h-2zM491 155h1v1h-1zM1003 155h2v1h-2zM492 156h1v1h-1zM1001 156h2v1h-2zM493 157h1v1h-1zM1000 157h1v1h-1zM494 158h1v1h-1zM999 158h1v1h-1zM495 159h1v1h-1zM998 159h1v1h-1zM495 160h1v1h-1zM996 160h2v1h-2zM496 161h1v1h-1zM995 161h1v1h-1zM497 162h1v1h-1zM994 162h1v1h-1zM498 163h2v1h-2zM993 163h1v1h-1zM500 164h1v1h-1zM992 164h1v1h-1zM501 165h1v1h-1zM990 165h2v1h-2zM502 166h1v1h-1zM989 166h1v1h-1zM503 167h1v1h-1zM988 167h1v1h-1zM504 168h1v1h-1zM508 168h2v1h-2zM987 168h1v1h-1zM505 169h3v1h-3zM510 169h1v1h-1zM986 169h1v1h-1zM510 170h1v1h-1zM985 170h1v1h-1zM511 171h1v1h-1zM984 171h1v1h-1zM511 172h1v1h-1zM983 172h1v1h-1zM512 173h1v1h-1zM981 173h2v1h-2zM512 174h1v1h-1zM980 174h1v1h-1zM513 175h2v1h-2zM979 175h1v1h-1zM515 176h1v1h-1zM978 176h1v1h-1zM516 177h2v1h-2zM523 177h1v1h-1zM977 177h1v1h-1zM518 178h2v1h-2zM521 178h2v1h-2zM524 178h1v1h-1zM976 178h1v1h-1zM520 179h1v1h-1zM524 179h1v1h-1zM975 179h1v1h-1zM525 180h1v1h-1zM974 180h1v1h-1zM525 181h1v1h-1zM974 181h1v1h-1zM526 182h1v1h-1zM973 182h1v1h-1zM526 183h1v1h-1zM972 183h1v1h-1zM527 184h6v1h-6zM972 184h1v1h-1zM533 185h1v1h-1zM971 185h1v1h-1zM534 186h1v1h-1zM970 186h1v1h-1zM534 187h1v1h-1zM969 187h1v1h-1zM535 188h1v1h-1zM540 188h2v1h-2zM969 188h1v1h-1zM536 189h1v1h-1zM539 189h1v1h-1zM542 189h1v1h-1zM969 189h1v1h-1zM537 190h2v1h-2zM543 190h1v1h-1zM968 190h1v1h-1zM544 191h1v1h-1zM967 191h1v1h-1zM545 192h1v1h-1zM967 192h1v1h-1zM546 193h1v1h-1zM967 193h1v1h-1zM547 194h1v1h-1zM966 194h1v1h-1zM548 195h1v1h-1zM965 195h1v1h-1zM549 196h1v1h-1zM965 196h1v1h-1zM550 197h1v1h-1zM964 197h1v1h-1zM551 198h1v1h-1zM964 198h1v1h-1zM552 199h1v1h-1zM963 199h1v1h-1zM553 200h1v1h-1zM606 200h1v1h-1zM962 200h1v1h-1zM554 201h1v1h-1zM605 201h1v1h-1zM607 201h1v1h-1zM961 201h1v1h-1zM555 202h1v1h-1zM605 202h1v1h-1zM607 202h1v1h-1zM961 202h1v1h-1zM556 203h1v1h-1zM562 203h2v1h-2zM604 203h1v1h-1zM608 203h1v1h-1zM960 203h1v1h-1zM557 204h1v1h-1zM560 204h2v1h-2zM564 204h1v1h-1zM603 204h1v1h-1zM608 204h1v1h-1zM614 204h1v1h-1zM959 204h1v1h-1zM558 205h2v1h-2zM565 205h1v1h-1zM603 205h1v1h-1zM609 205h1v1h-1zM613 205h2v1h-2zM645 205h3v1h-3zM958 205h1v1h-1zM566 206h1v1h-1zM579 206h1v1h-1zM598 206h5v1h-5zM610 206h1v1h-1zM613 206h1v1h-1zM615 206h1v1h-1zM642 206h3v1h-3zM648 206h2v1h-2zM773 206h2v1h-2zM958 206h1v1h-1zM567 207h1v1h-1zM578 207h1v1h-1zM580 207h2v1h-2zM591 207h3v1h-3zM597 207h1v1h-1zM610 207h1v1h-1zM612 207h1v1h-1zM616 207h1v1h-1zM641 207h1v1h-1zM650 207h1v1h-1zM770 207h3v1h-3zM775 207h2v1h-2zM957 207h1v1h-1zM568 208h1v1h-1zM578 208h1v1h-1zM582 208h1v1h-1zM590 208h1v1h-1zM594 208h3v1h-3zM611 208h1v1h-1zM616 208h1v1h-1zM629 208h1v1h-1zM639 208h2v1h-2zM650 208h1v1h-1zM769 208h1v1h-1zM777 208h1v1h-1zM956 208h1v1h-1zM569 209h1v1h-1zM577 209h1v1h-1zM583 209h1v1h-1zM588 209h2v1h-2zM616 209h1v1h-1zM629 209h2v1h-2zM638 209h1v1h-1zM651 209h1v1h-1zM769 209h1v1h-1zM777 209h1v1h-1zM956 209h1v1h-1zM570 210h1v1h-1zM576 210h1v1h-1zM584 210h2v1h-2zM587 210h1v1h-1zM617 210h1v1h-1zM628 210h1v1h-1zM631 210h2v1h-2zM636 210h2v1h-2zM652 210h1v1h-1zM664 210h6v1h-6zM768 210h1v1h-1zM778 210h1v1h-1zM955 210h1v1h-1zM571 211h1v1h-1zM576 211h1v1h-1zM586 211h1v1h-1zM618 211h1v1h-1zM621 211h2v1h-2zM627 211h1v1h-1zM633 211h1v1h-1zM635 211h1v1h-1zM653 211h1v1h-1zM664 211h1v1h-1zM669 211h1v1h-1zM767 211h1v1h-1zM778 211h1v1h-1zM954 211h1v1h-1zM572 212h4v1h-4zM618 212h3v1h-3zM623 212h1v1h-1zM627 212h1v1h-1zM634 212h1v1h-1zM653 212h1v1h-1zM663 212h1v1h-1zM670 212h1v1h-1zM767 212h1v1h-1zM779 212h1v1h-1zM953 212h1v1h-1zM623 213h1v1h-1zM627 213h1v1h-1zM654 213h1v1h-1zM662 213h1v1h-1zM670 213h1v1h-1zM680 213h1v1h-1zM766 213h1v1h-1zM779 213h1v1h-1zM951 213h2v1h-2zM624 214h1v1h-1zM626 214h1v1h-1zM655 214h1v1h-1zM662 214h1v1h-1zM670 214h1v1h-1zM679 214h1v1h-1zM681 214h1v1h-1zM687 214h2v1h-2zM711 214h1v1h-1zM761 214h3v1h-3zM766 214h1v1h-1zM780 214h1v1h-1zM950 214h1v1h-1zM624 215h2v1h-2zM656 215h2v1h-2zM662 215h1v1h-1zM671 215h1v1h-1zM678 215h1v1h-1zM682 215h2v1h-2zM686 215h1v1h-1zM689 215h1v1h-1zM696 215h5v1h-5zM710 215h1v1h-1zM712 215h1v1h-1zM761 215h1v1h-1zM764 215h2v1h-2zM780 215h1v1h-1zM946 215h4v1h-4zM625 216h1v1h-1zM658 216h1v1h-1zM661 216h1v1h-1zM671 216h1v1h-1zM678 216h1v1h-1zM684 216h2v1h-2zM689 216h1v1h-1zM695 216h1v1h-1zM701 216h4v1h-4zM709 216h1v1h-1zM712 216h1v1h-1zM760 216h1v1h-1zM781 216h1v1h-1zM941 216h5v1h-5zM659 217h2v1h-2zM671 217h1v1h-1zM677 217h1v1h-1zM690 217h1v1h-1zM693 217h2v1h-2zM705 217h1v1h-1zM709 217h1v1h-1zM713 217h1v1h-1zM760 217h1v1h-1zM781 217h1v1h-1zM939 217h2v1h-2zM660 218h1v1h-1zM672 218h1v1h-1zM675 218h2v1h-2zM690 218h1v1h-1zM692 218h1v1h-1zM706 218h1v1h-1zM708 218h1v1h-1zM714 218h1v1h-1zM718 218h2v1h-2zM759 218h1v1h-1zM782 218h1v1h-1zM937 218h2v1h-2zM672 219h3v1h-3zM691 219h1v1h-1zM707 219h1v1h-1zM714 219h1v1h-1zM717 219h1v1h-1zM720 219h1v1h-1zM759 219h1v1h-1zM782 219h1v1h-1zM935 219h2v1h-2zM715 220h2v1h-2zM721 220h1v1h-1zM750 220h5v1h-5zM758 220h1v1h-1zM783 220h1v1h-1zM934 220h1v1h-1zM721 221h1v1h-1zM726 221h2v1h-2zM739 221h2v1h-2zM748 221h2v1h-2zM755 221h4v1h-4zM783 221h1v1h-1zM789 221h1v1h-1zM904 221h1v1h-1zM933 221h1v1h-1zM722 222h1v1h-1zM725 222h1v1h-1zM727 222h1v1h-1zM738 222h1v1h-1zM741 222h2v1h-2zM746 222h2v1h-2zM784 222h1v1h-1zM787 222h2v1h-2zM790 222h1v1h-1zM796 222h2v1h-2zM902 222h2v1h-2zM905 222h2v1h-2zM931 222h2v1h-2zM723 223h2v1h-2zM728 223h1v1h-1zM737 223h1v1h-1zM743 223h3v1h-3zM784 223h1v1h-1zM786 223h1v1h-1zM791 223h2v1h-2zM795 223h1v1h-1zM798 223h2v1h-2zM894 223h2v1h-2zM901 223h1v1h-1zM907 223h1v1h-1zM930 223h1v1h-1zM729 224h1v1h-1zM736 224h1v1h-1zM785 224h1v1h-1zM793 224h2v1h-2zM800 224h2v1h-2zM828 224h1v1h-1zM879 224h4v1h-4zM893 224h1v1h-1zM896 224h1v1h-1zM899 224h2v1h-2zM908 224h2v1h-2zM926 224h4v1h-4zM729 225h1v1h-1zM734 225h2v1h-2zM802 225h1v1h-1zM827 225h2v1h-2zM878 225h1v1h-1zM883 225h1v1h-1zM893 225h1v1h-1zM897 225h2v1h-2zM910 225h2v1h-2zM920 225h6v1h-6zM729 226h1v1h-1zM732 226h2v1h-2zM803 226h2v1h-2zM821 226h1v1h-1zM826 226h1v1h-1zM829 226h1v1h-1zM877 226h1v1h-1zM884 226h2v1h-2zM892 226h1v1h-1zM912 226h4v1h-4zM919 226h1v1h-1zM730 227h2v1h-2zM805 227h5v1h-5zM820 227h1v1h-1zM822 227h2v1h-2zM825 227h1v1h-1zM830 227h1v1h-1zM870 227h2v1h-2zM876 227h1v1h-1zM886 227h2v1h-2zM891 227h1v1h-1zM916 227h3v1h-3zM809 228h1v1h-1zM819 228h1v1h-1zM824 228h1v1h-1zM830 228h1v1h-1zM869 228h1v1h-1zM872 228h1v1h-1zM875 228h1v1h-1zM888 228h1v1h-1zM891 228h1v1h-1zM810 229h1v1h-1zM818 229h1v1h-1zM830 229h1v1h-1zM869 229h1v1h-1zM873 229h2v1h-2zM889 229h2v1h-2zM811 230h1v1h-1zM818 230h1v1h-1zM831 230h1v1h-1zM868 230h1v1h-1zM811 231h1v1h-1zM817 231h1v1h-1zM832 231h1v1h-1zM844 231h1v1h-1zM868 231h1v1h-1zM811 232h1v1h-1zM815 232h2v1h-2zM832 232h4v1h-4zM843 232h1v1h-1zM845 232h2v1h-2zM850 232h2v1h-2zM867 232h1v1h-1zM812 233h3v1h-3zM836 233h2v1h-2zM842 233h1v1h-1zM847 233h3v1h-3zM852 233h1v1h-1zM860 233h4v1h-4zM867 233h1v1h-1zM838 234h2v1h-2zM841 234h1v1h-1zM853 234h1v1h-1zM859 234h1v1h-1zM864 234h3v1h-3zM840 235h1v1h-1zM853 235h1v1h-1zM857 235h2v1h-2zM854 236h1v1h-1zM856 236h1v1h-1zM855 237h1v1h-1z"/>
<polyline stroke="#008000" stroke-width="2" points="77.0,104.0 100.0,105.0 125.0,107.0 170.0,110.0 215.0,113.0 260.0,116.0 300.0,120.0 340.0,123.2 357.5,125.0 377.5,127.5 390.0,131.2 405.5,136.8 425.0,136.8 440.0,135.0 460.0,131.2 475.0,129.2 490.0,128.0 515.0,126.2 525.0,125.5 537.5,123.2 552.5,120.0 570.0,115.8 590.0,113.2 615.0,111.2 620.0,110.0 645.0,107.0 670.0,103.8 695.0,101.2 727.5,99.2 737.5,100.8 760.0,100.5 780.0,97.9 793.8,97.5 801.9,96.0 816.2,95.6 817.5,94.8 828.8,94.4 830.0,93.8 855.0,93.8 856.9,92.9 863.8,92.5 865.0,91.9 893.8,91.9 898.1,93.1 900.6,95.6 905.0,96.2 910.0,100.0 917.5,101.6 928.8,101.6 930.0,102.8 936.2,102.8 940.0,101.9 957.5,100.8 972.5,100.0 1045.0,99.5 1080.0,97.0 1102.5,97.0 1117.5,98.8 1132.5,99.2 1142.5,100.8 1165.0,101.2 1193.0,101.8"/>
<polyline stroke="#ff0000" stroke-width="2" points="77.0,249.0 92.5,249.0 110.0,255.5 125.0,255.5 130.0,255.0 155.0,261.8 170.0,262.2 190.0,268.0 200.0,270.0 232.5,271.0 245.0,273.5 255.0,277.2 267.5,279.8 287.5,279.8 315.0,290.5 342.5,294.8 350.0,297.8 385.0,297.8 405.0,295.5 411.0,293.5 425.0,281.0 435.0,268.5 446.0,253.5 462.5,236.0 471.0,226.0 480.0,212.2 487.5,202.2 495.0,196.0 512.5,176.2 525.0,169.2 537.5,165.0 547.5,159.5 556.0,150.0 567.5,148.8 575.0,145.8 581.0,141.2 590.0,138.0 602.5,137.5 611.0,130.0 617.5,128.8 627.5,123.8 637.5,118.2 652.5,115.5 661.0,118.8 671.0,115.0 676.0,116.8 682.5,114.5 690.0,113.8 697.5,112.0 705.0,113.0 717.5,112.5 722.5,108.8 727.5,103.8 732.5,102.5 740.0,100.0 747.5,98.8 755.0,97.5 767.5,97.0 775.0,92.0 780.0,90.6 785.0,90.0 789.4,91.0 793.8,88.1 798.8,86.9 805.0,81.9 810.0,80.6 816.2,80.6 821.2,76.9 825.0,76.2 828.8,73.8 833.1,73.8 836.2,75.9 842.5,76.6 848.1,79.8 858.8,79.8 861.2,78.8 865.0,79.8 873.8,79.8 880.0,77.8 890.0,77.8 891.2,79.0 900.6,79.0 906.2,74.4 916.2,70.0 921.9,66.0 926.2,65.0 933.1,65.0 936.2,67.5 940.0,69.4 950.0,82.5 957.5,92.5 965.0,100.0 975.0,112.5 987.5,128.8 1000.0,140.0 1007.5,147.0 1015.0,150.0 1025.0,158.8 1035.0,164.2 1045.0,171.2 1055.0,173.8 1065.0,175.8 1075.0,176.8 1087.5,176.8 1097.5,167.5 1105.0,165.0 1111.0,164.2 1120.0,168.0 1135.0,177.5 1142.5,185.0 1155.0,196.0 1161.0,201.5 1169.0,203.5 1177.5,204.2 1185.0,206.5 1193.0,208.5"/>
<polyline stroke="#0000ff" stroke-width="2" points="77.0,442.9 80.9,458.0 84.8,458.0 88.7,473.1 92.6,473.1 96.4,458.0 100.3,442.9 104.2,427.7 108.1,412.6 112.0,427.7 115.9,442.9 119.8,458.0 123.7,458.0 127.6,458.0 131.4,442.9 135.3,442.9 139.2,442.9 143.1,458.0 147.0,458.0 150.9,427.7 154.8,442.9 158.7,458.0 162.6,473.1 166.4,458.0 170.3,458.0 174.2,458.0 178.1,458.0 182.0,442.9 185.9,458.0 189.8,458.0 193.7,458.0 197.6,473.1 201.4,473.1 205.3,442.9 209.2,442.9 213.1,458.0 217.0,473.1 220.9,473.1 224.8,473.1 228.7,473.1 232.6,473.1 236.4,495.8 240.3,518.5 244.2,503.4 248.1,518.5 252.0,473.1 255.9,458.0 259.8,458.0 263.7,442.9 267.6,473.1 271.4,488.2 275.3,488.2 279.2,503.4 283.1,518.5 287.0,518.5 290.9,518.5 294.8,518.5 298.7,503.4 302.6,503.4 306.4,488.2 310.3,473.1 314.2,488.2 318.1,488.2 322.0,488.2 325.9,518.5 329.8,518.5 333.7,518.5 337.6,518.5 341.4,518.5 345.3,518.5 349.2,473.1 353.1,458.0 357.0,473.1 360.9,488.2 364.8,503.4 368.7,503.4 372.6,518.5 376.4,518.5 380.3,518.5 384.2,518.5 388.1,518.5 392.0,518.5 395.9,518.5 399.8,518.5 403.7,518.5 407.6,518.5 411.4,488.2 415.3,473.1 419.2,473.1 423.1,488.2 427.0,503.4 430.9,503.4 434.8,503.4 438.7,518.5 442.6,473.1 446.4,473.1 450.3,488.2 454.2,488.2 458.1,488.2 462.0,488.2 465.9,488.2 469.8,488.2 473.7,473.1 477.6,488.2 481.4,488.2 485.3,473.1 489.2,458.0 493.1,458.0 497.0,458.0 500.9,473.1 504.8,458.0 508.7,473.1 512.6,473.1 516.4,458.0 520.3,458.0 524.2,458.0 528.1,458.0 532.0,412.6 535.9,427.7 539.8,458.0 543.7,458.0 547.6,427.7 551.4,488.2 555.3,427.7 559.2,458.0 563.1,427.7 567.0,473.1 570.9,412.6 574.8,427.7 578.7,473.1 582.6,458.0 586.4,488.2 590.3,458.0 594.2,458.0 598.1,442.9 602.0,458.0 605.9,442.9 609.8,458.0 613.7,473.1 617.6,450.4 621.4,427.7 625.3,473.1 629.2,427.7 633.1,442.9 637.0,458.0 640.9,473.1 644.8,442.9 648.7,442.9 652.6,458.0 656.4,442.9 660.3,427.7 664.2,458.0 668.1,473.1 672.0,397.5 675.9,382.3 679.8,412.6 683.7,458.0 687.6,458.0 691.4,427.7 695.3,473.1 699.2,442.9 703.1,427.7 707.0,397.5 710.9,412.6 714.8,442.9 718.7,458.0 722.6,458.0 726.4,488.2 730.3,473.1 734.2,458.0 738.1,458.0 742.0,458.0 745.9,458.0 749.8,458.0 753.7,458.0 757.6,473.1 761.4,488.2 765.3,488.2 769.2,473.1 773.1,473.1 777.0,458.0 780.9,488.2 784.8,458.0 788.7,458.0 792.6,458.0 796.4,427.7 800.3,488.2 804.2,458.0 808.1,473.1 812.0,473.1 815.9,473.1 819.8,473.1 823.7,442.9 827.6,488.2 831.4,473.1 835.3,412.6 839.2,442.9 843.1,442.9 847.0,382.3 850.9,397.5 854.8,397.5 858.7,488.2 862.6,412.6 866.4,458.0 870.3,488.2 874.2,488.2 878.1,488.2 882.0,442.9 885.9,458.0 889.8,458.0 893.7,488.2 897.6,488.2 901.4,488.2 905.3,458.0 909.2,473.1 913.1,488.2 917.0,488.2 920.9,488.2 924.8,488.2 928.7,488.2 932.6,503.4 936.4,518.5 940.3,518.5 944.2,518.5 948.1,473.1 952.0,488.2 955.9,488.2 959.8,503.4 963.7,458.0 967.6,473.1 971.4,458.0 975.3,442.9 979.2,458.0 983.1,458.0 987.0,458.0 990.9,458.0 994.8,458.0 998.7,458.0 1002.6,442.9 1006.4,458.0 1010.3,458.0 1014.2,442.9 1018.1,442.9 1022.0,442.9 1025.9,442.9 1029.8,442.9 1033.7,427.7 1037.6,442.9 1041.4,442.9 1045.3,427.7 1049.2,427.7 1053.1,427.7 1057.0,458.0 1060.9,442.9 1064.8,397.5 1068.7,427.7 1072.6,427.7 1076.4,427.7 1080.3,442.9 1084.2,458.0 1088.1,427.7 1092.0,412.6 1095.9,458.0 1099.8,442.9 1103.7,458.0 1107.6,518.5 1111.4,518.5 1115.3,488.2 1119.2,488.2 1123.1,488.2 1127.0,488.2 1130.9,473.1 1134.8,458.0 1138.7,442.9 1142.6,442.9 1146.4,488.2 1150.3,427.7 1154.2,397.5 1158.1,397.5 1162.0,397.5 1165.9,442.9 1169.8,458.0 1173.7,473.1 1177.6,488.2 1181.4,473.1 1185.3,473.1 1189.2,458.0 1193.1,442.9"/>
<polyline stroke="#ffffff" stroke-width="3" points="77.0,470.0 83.8,470.5 91.2,475.0 95.0,473.8 103.8,462.5 111.2,457.0 120.0,463.8 126.2,467.0 137.5,467.0 146.2,466.2 154.5,462.0 162.5,472.0 170.0,475.0 176.2,474.5 182.5,472.5 190.0,473.0 201.2,476.2 209.5,470.5 217.5,474.5 225.0,479.5 232.5,480.5 240.0,493.8 247.5,505.0 256.2,494.5 264.5,483.8 275.0,493.8 287.5,507.5 302.5,513.0 311.2,506.8 321.2,505.8 332.5,512.0 340.0,514.0 340.0,515.0 346.2,513.8 356.2,499.5 365.0,507.0 377.5,513.8 390.0,516.2 407.5,515.8 412.5,510.0 418.8,505.0 427.5,507.0 433.8,507.5 439.5,512.5 446.2,506.2 457.5,505.0 467.5,503.8 475.0,500.0 482.5,499.5 490.0,493.8 496.2,489.5 503.8,491.2 511.2,494.2 520.0,487.5 525.0,490.5 537.5,484.5 541.2,486.2 546.2,482.5 552.5,488.0 562.5,485.0 567.5,488.0 573.8,485.0 580.0,488.8 587.5,493.8 595.0,492.5 602.5,494.2 610.0,493.8 617.5,494.2 620.0,492.5 625.0,493.0 632.5,488.0 642.5,491.2 652.5,492.0 660.0,489.5 668.8,492.5 672.5,487.5 676.2,473.0 680.0,481.2 685.0,483.8 691.2,485.0 695.0,489.5 701.2,485.0 707.5,478.8 711.2,480.0 715.0,479.5 722.5,487.5 728.8,493.0 745.0,493.8 750.0,490.5 756.2,492.5 762.5,495.0 770.0,497.0 775.0,495.8 781.2,499.2 791.2,497.0 796.2,492.5 801.2,499.2 810.0,497.0 816.2,500.0 823.8,495.8 828.8,499.2 836.2,490.0 842.5,487.5 847.5,481.2 855.0,478.0 859.5,485.5 863.8,482.5 870.0,490.0 877.5,494.5 885.0,494.2 892.5,495.8 898.8,498.5 900.0,498.8 908.8,500.0 916.2,499.5 922.5,503.8 928.8,506.2 936.2,510.5 943.8,513.8 952.5,508.8 960.0,511.2 965.0,501.2 970.0,497.5 976.2,485.8 982.5,482.5 988.8,477.5 1000.0,471.2 1007.5,474.5 1020.0,463.8 1033.8,457.5 1041.2,457.5 1048.8,451.2 1057.5,461.2 1066.2,454.5 1070.0,455.5 1076.2,451.2 1085.0,461.2 1088.8,466.2 1092.5,465.5 1097.5,475.0 1105.0,485.0 1111.2,497.5 1120.0,502.5 1122.5,499.5 1128.0,504.5 1132.5,501.2 1137.5,491.2 1143.0,483.8 1147.0,488.8 1152.5,475.0 1162.5,460.0 1171.2,467.5 1177.5,482.5 1185.8,493.0 1193.8,481.2"/>
</g>
<rect shape-rendering="crispEdges" x="78" y="517" width="1116" height="1" fill="#000"/>
<text transform="translate(574.0 21.0) scale(0.930 1)" fill="#fff" stroke="#b4b4b4" style="font-size:17px;stroke-width:0.2px">Freitag, 08.07.2016</text>
<text transform="translate(1272.5 16.0) scale(0.850 1)" fill="#ff0000" stroke="#ff0000" text-anchor="end">Jarz Erich</text>
<rect shape-rendering="crispEdges" x="87" y="33" width="10" height="10" fill="#fff"/>
<rect shape-rendering="crispEdges" x="88" y="34" width="8" height="8" fill="#008000"/>
<text transform="translate(101.2 42.0) scale(0.870 1)" fill="#008000" stroke="#008000">Temp. I.*</text>
<rect shape-rendering="crispEdges" x="182" y="33" width="10" height="10" fill="#fff"/>
<rect shape-rendering="crispEdges" x="183" y="34" width="8" height="8" fill="#ff0000"/>
<text transform="translate(196.2 42.0) scale(0.870 1)" fill="#008000" stroke="#008000">Temp. A.*</text>
<rect shape-rendering="crispEdges" x="277" y="33" width="10" height="10" fill="#fff"/>
<rect shape-rendering="crispEdges" x="278" y="34" width="8" height="8" fill="#00ffff"/>
<text transform="translate(291.2 42.0) scale(0.870 1)" fill="#00ffff" stroke="#00ffff">Feuchte A.*</text>
<rect shape-rendering="crispEdges" x="372" y="33" width="10" height="10" fill="#fff"/>
<rect shape-rendering="crispEdges" x="373" y="34" width="8" height="8" fill="#000000"/>
<text transform="translate(386.2 42.0) scale(0.870 1)" fill="#000000" stroke="#000000">Regen*</text>
<rect shape-rendering="crispEdges" x="467" y="33" width="10" height="10" fill="#fff"/>
<rect shape-rendering="crispEdges" x="468" y="34" width="8" height="8" fill="#ffffff"/>
<text transform="translate(481.2 42.0) scale(0.870 1)" fill="#ffffff" stroke="#ffffff">Wind*</text>
<rect shape-rendering="crispEdges" x="562" y="33" width="10" height="10" fill="#fff"/>
<rect shape-rendering="crispEdges" x="563" y="34" width="8" height="8" fill="#0000ff"/>
<text transform="translate(576.2 42.0) scale(0.885 1)" fill="#ffffff" stroke="#ffffff">Windböen</text>
<rect shape-rendering="crispEdges" x="657" y="33" width="10" height="10" fill="#fff"/>
<rect shape-rendering="crispEdges" x="658" y="34" width="8" height="8" fill="#808040"/>
<text transform="translate(671.2 42.0) scale(0.845 1)" fill="#00ffff" stroke="#00ffff">Empfang</text>
<text transform="translate(20.0 37.0) scale(0.750 1)" fill="#008000" stroke="#008000">°C</text>
<text transform="translate(49.5 37.0) scale(0.870 1)" fill="#000" stroke="#000">l/m²</text>
<text transform="translate(1197.5 37.0) scale(0.720 1)" fill="#00ffff" stroke="#00ffff">%</text>
<text transform="translate(1235.0 37.0) scale(0.870 1)" fill="#fff" stroke="#fff">km/h</text>
<text transform="translate(34.5 523.0) scale(0.870 1)" fill="#008000" stroke="#008000" text-anchor="end">0.0</text>
<text transform="translate(34.5 506.0) scale(0.870 1)" fill="#008000" stroke="#008000" text-anchor="end">1.0</text>
<text transform="translate(34.5 489.0) scale(0.870 1)" fill="#008000" stroke="#008000" text-anchor="end">2.0</text>
<text transform="translate(34.5 473.0) scale(0.870 1)" fill="#008000" stroke="#008000" text-anchor="end">3.0</text>
<text transform="translate(34.5 456.0) scale(0.870 1)" fill="#008000" stroke="#008000" text-anchor="end">4.0</text>
<text transform="translate(34.5 439.0) scale(0.870 1)" fill="#008000" stroke="#008000" text-anchor="end">5.0</text>
<text transform="translate(34.5 422.0) scale(0.870 1)" fill="#008000" stroke="#008000" text-anchor="end">6.0</text>
<text transform="translate(34.5 405.0) scale(0.870 1)" fill="#008000" stroke="#008000" text-anchor="end">7.0</text>
<text transform="translate(34.5 389.0) scale(0.870 1)" fill="#008000" stroke="#008000" text-anchor="end">8.0</text>
<text transform="translate(34.5 372.0) scale(0.870 1)" fill="#008000" stroke="#008000" text-anchor="end">9.0</text>
<text transform="translate(34.5 355.0) scale(0.870 1)" fill="#008000" stroke="#008000" text-anchor="end">10.0</text>
<text transform="translate(34.5 338.0) scale(0.870 1)" fill="#008000" stroke="#008000" text-anchor="end">11.0</text>
<text transform="translate(34.5 322.0) scale(0.870 1)" fill="#008000" stroke="#008000" text-anchor="end">12.0</text>
<text transform="translate(34.5 305.0) scale(0.870 1)" fill="#008000" stroke="#008000" text-anchor="end">13.0</text>
<text transform="translate(34.5 288.0) scale(0.870 1)" fill="#008000" stroke="#008000" text-anchor="end">14.0</text>
<text transform="translate(34.5 271.0) scale(0.870 1)" fill="#008000" stroke="#008000" text-anchor="end">15.0</text>
<text transform="translate(34.5 254.0) scale(0.870 1)" fill="#008000" stroke="#008000" text-anchor="end">16.0</text>
<text transform="translate(34.5 238.0) scale(0.870 1)" fill="#008000" stroke="#008000" text-anchor="end">17.0</text>
<text transform="translate(34.5 221.0) scale(0.870 1)" fill="#008000" stroke="#008000" text-anchor="end">18.0</text>
<text transform="translate(34.5 204.0) scale(0.870 1)" fill="#008000" stroke="#008000" text-anchor="end">19.0</text>
<text transform="translate(34.5 187.0) scale(0.870 1)" fill="#008000" stroke="#008000" text-anchor="end">20.0</text>
<text transform="translate(34.5 171.0) scale(0.870 1)" fill="#008000" stroke="#008000" text-anchor="end">21.0</text>
<text transform="translate(34.5 154.0) scale(0.870 1)" fill="#008000" stroke="#008000" text-anchor="end">22.0</text>
<text transform="translate(34.5 137.0) scale(0.870 1)" fill="#008000" stroke="#008000" text-anchor="end">23.0</text>
<text transform="translate(34.5 120.0) scale(0.870 1)" fill="#008000" stroke="#008000" text-anchor="end">24.0</text>
<text transform="translate(34.5 103.0) scale(0.870 1)" fill="#008000" stroke="#008000" text-anchor="end">25.0</text>
<text transform="translate(34.5 87.0) scale(0.870 1)" fill="#008000" stroke="#008000" text-anchor="end">26.0</text>
<text transform="translate(34.5 70.0) scale(0.870 1)" fill="#008000" stroke="#008000" text-anchor="end">27.0</text>
<text transform="translate(34.5 53.0) scale(0.870 1)" fill="#008000" stroke="#008000" text-anchor="end">28.0</text>
<text transform="translate(71.5 523.0) scale(0.870 1)" fill="#000" stroke="#000" text-anchor="end">0.0</text>
<text transform="translate(71.5 429.0) scale(0.870 1)" fill="#000" stroke="#000" text-anchor="end">1.0</text>
<text transform="translate(71.5 335.0) scale(0.870 1)" fill="#000" stroke="#000" text-anchor="end">2.0</text>
<text transform="translate(71.5 241.0) scale(0.870 1)" fill="#000" stroke="#000" text-anchor="end">3.0</text>
<text transform="translate(71.5 147.0) scale(0.870 1)" fill="#000" stroke="#000" text-anchor="end">4.0</text>
<text transform="translate(71.5 53.0) scale(0.870 1)" fill="#000" stroke="#000" text-anchor="end">5.0</text>
<text transform="translate(1203.0 523.0) scale(0.870 1)" fill="#00ffff" stroke="#00ffff">0</text>
<text transform="translate(1240.5 523.0) scale(0.870 1)" fill="#fff" stroke="#fff">0.0</text>
<text transform="translate(1203.0 476.0) scale(0.870 1)" fill="#00ffff" stroke="#00ffff">10</text>
<text transform="translate(1240.5 476.0) scale(0.870 1)" fill="#fff" stroke="#fff">5.0</text>
<text transform="translate(1203.0 429.0) scale(0.870 1)" fill="#00ffff" stroke="#00ffff">20</text>
<text transform="translate(1240.5 429.0) scale(0.870 1)" fill="#fff" stroke="#fff">10.0</text>
<text transform="translate(1203.0 382.0) scale(0.870 1)" fill="#00ffff" stroke="#00ffff">30</text>
<text transform="translate(1240.5 382.0) scale(0.870 1)" fill="#fff" stroke="#fff">15.0</text>
<text transform="translate(1203.0 335.0) scale(0.870 1)" fill="#00ffff" stroke="#00ffff">40</text>
<text transform="translate(1240.5 335.0) scale(0.870 1)" fill="#fff" stroke="#fff">20.0</text>
<text transform="translate(1203.0 288.0) scale(0.870 1)" fill="#00ffff" stroke="#00ffff">50</text>
<text transform="translate(1240.5 288.0) scale(0.870 1)" fill="#fff" stroke="#fff">25.0</text>
<text transform="translate(1203.0 241.0) scale(0.870 1)" fill="#00ffff" stroke="#00ffff">60</text>
<text transform="translate(1240.5 241.0) scale(0.870 1)" fill="#fff" stroke="#fff">30.0</text>
<text transform="translate(1203.0 194.0) scale(0.870 1)" fill="#00ffff" stroke="#00ffff">70</text>
<text transform="translate(1240.5 194.0) scale(0.870 1)" fill="#fff" stroke="#fff">35.0</text>
<text transform="translate(1203.0 147.0) scale(0.870 1)" fill="#00ffff" stroke="#00ffff">80</text>
<text transform="translate(1240.5 147.0) scale(0.870 1)" fill="#fff" stroke="#fff">40.0</text>
<text transform="translate(1203.0 100.0) scale(0.870 1)" fill="#00ffff" stroke="#00ffff">90</text>
<text transform="translate(1240.5 100.0) scale(0.870 1)" fill="#fff" stroke="#fff">45.0</text>
<text transform="translate(1203.0 53.0) scale(0.870 1)" fill="#00ffff" stroke="#00ffff">100</text>
<text transform="translate(1240.5 53.0) scale(0.870 1)" fill="#fff" stroke="#fff">50.0</text>
<text transform="translate(78.0 537.0) scale(0.870 1)" fill="#fff" stroke="#fff" text-anchor="middle">00:00</text>
<text transform="translate(125.0 537.0) scale(0.870 1)" fill="#fff" stroke="#fff" text-anchor="middle">01:00</text>
<text transform="translate(171.0 537.0) scale(0.870 1)" fill="#fff" stroke="#fff" text-anchor="middle">02:00</text>
<text transform="translate(218.0 537.0) scale(0.870 1)" fill="#fff" stroke="#fff" text-anchor="middle">03:00</text>
<text transform="translate(265.0 537.0) scale(0.870 1)" fill="#fff" stroke="#fff" text-anchor="middle">04:00</text>
<text transform="translate(311.0 537.0) scale(0.870 1)" fill="#fff" stroke="#fff" text-anchor="middle">05:00</text>
<text transform="translate(358.0 537.0) scale(0.870 1)" fill="#fff" stroke="#fff" text-anchor="middle">06:00</text>
<text transform="translate(405.0 537.0) scale(0.870 1)" fill="#fff" stroke="#fff" text-anchor="middle">07:00</text>
<text transform="translate(451.0 537.0) scale(0.870 1)" fill="#fff" stroke="#fff" text-anchor="middle">08:00</text>
<text transform="translate(498.0 537.0) scale(0.870 1)" fill="#fff" stroke="#fff" text-anchor="middle">09:00</text>
<text transform="translate(545.0 537.0) scale(0.870 1)" fill="#fff" stroke="#fff" text-anchor="middle">10:00</text>
<text transform="translate(591.0 537.0) scale(0.870 1)" fill="#fff" stroke="#fff" text-anchor="middle">11:00</text>
<text transform="translate(638.0 537.0) scale(0.870 1)" fill="#fff" stroke="#fff" text-anchor="middle">12:00</text>
<text transform="translate(685.0 537.0) scale(0.870 1)" fill="#fff" stroke="#fff" text-anchor="middle">13:00</text>
<text transform="translate(731.0 537.0) scale(0.870 1)" fill="#fff" stroke="#fff" text-anchor="middle">14:00</text>
<text transform="translate(778.0 537.0) scale(0.870 1)" fill="#fff" stroke="#fff" text-anchor="middle">15:00</text>
<text transform="translate(825.0 537.0) scale(0.870 1)" fill="#fff" stroke="#fff" text-anchor="middle">16:00</text>
<text transform="translate(871.0 537.0) scale(0.870 1)" fill="#fff" stroke="#fff" text-anchor="middle">17:00</text>
<text transform="translate(918.0 537.0) scale(0.870 1)" fill="#fff" stroke="#fff" text-anchor="middle">18:00</text>
<text transform="translate(965.0 537.0) scale(0.870 1)" fill="#fff" stroke="#fff" text-anchor="middle">19:00</text>
<text transform="translate(1011.0 537.0) scale(0.870 1)" fill="#fff" stroke="#fff" text-anchor="middle">20:00</text>
<text transform="translate(1058.0 537.0) scale(0.870 1)" fill="#fff" stroke="#fff" text-anchor="middle">21:00</text>
<text transform="translate(1105.0 537.0) scale(0.870 1)" fill="#fff" stroke="#fff" text-anchor="middle">22:00</text>
<text transform="translate(1151.0 537.0) scale(0.870 1)" fill="#fff" stroke="#fff" text-anchor="middle">23:00</text>
<text transform="translate(1198.0 537.0) scale(0.870 1)" fill="#fff" stroke="#fff" text-anchor="middle">24:00</text>
<g shape-rendering="crispEdges">
<path d="M523 538h1v1h-1zM528 538h1v1h-1zM523 543h1v1h-1zM528 543h1v1h-1z" fill="#2828b0"/>
<path d="M524 538h4v1h-4zM523 539h6v1h-6zM523 540h6v1h-6zM523 541h6v1h-6zM523 542h6v1h-6zM524 543h4v1h-4z" fill="#ffffff"/>
<path d="M530 540h1v1h-1zM529 541h1v1h-1zM529 542h1v1h-1zM528 543h1v1h-1zM528 544h1v1h-1zM527 545h1v1h-1zM527 546h1v1h-1z" fill="#000000"/>
<path d="M531 541h1v1h-1zM531 542h1v1h-1zM532 543h1v1h-1zM532 544h1v1h-1zM533 545h1v1h-1zM533 546h1v1h-1z" fill="#8080e0"/>
<path d="M530 541h1v1h-1zM530 542h1v1h-1zM529 543h3v1h-3zM529 544h3v1h-3zM528 545h5v1h-5zM528 546h5v1h-5zM529 547h3v1h-3zM529 548h3v1h-3zM530 549h1v1h-1z" fill="#ffee00"/>
</g>
<text transform="translate(534.5 548.0) scale(0.870 1)" fill="#fff" stroke="#fff">09:39</text>
<g shape-rendering="crispEdges">
<path d="M1155 545h1v1h-1zM1160 545h1v1h-1z" fill="#2828b0"/>
<path d="M1156 545h4v1h-4zM1155 546h6v1h-6zM1155 547h6v1h-6zM1155 548h6v1h-6z" fill="#ffffff"/>
<path d="M1156 540h1v1h-1zM1156 541h1v1h-1zM1155 542h1v1h-1zM1155 543h1v1h-1zM1154 544h1v1h-1zM1153 545h1v1h-1zM1153 546h1v1h-1z" fill="#000000"/>
<path d="M1150 540h1v1h-1zM1150 541h1v1h-1zM1151 542h1v1h-1zM1151 543h1v1h-1zM1152 544h1v1h-1z" fill="#8080e0"/>
<path d="M1152 538h3v1h-3zM1152 539h3v1h-3zM1151 540h5v1h-5zM1151 541h5v1h-5zM1152 542h3v1h-3zM1152 543h3v1h-3zM1153 544h1v1h-1zM1153 545h1v1h-1z" fill="#ffee00"/>
</g>
<text transform="translate(1161.5 548.0) scale(0.870 1)" fill="#fff" stroke="#fff">23:06</text>
<g shape-rendering="crispEdges">
<rect x="0" y="552" width="1280" height="1" fill="#fff"/>
<rect x="1" y="553" width="1277" height="72" fill="#ccfaf6"/>
<rect x="0" y="552" width="1" height="73" fill="#fff"/>
<rect x="1278" y="553" width="1" height="72" fill="#fff"/>
<rect x="1279" y="552" width="1" height="73" fill="#808080"/>
<rect x="87" y="553" width="1" height="72" fill="#fff"/>
<rect x="88" y="553" width="1" height="72" fill="#808080"/>
<rect x="204" y="553" width="1" height="72" fill="#fff"/>
<rect x="205" y="553" width="1" height="72" fill="#808080"/>
<rect x="322" y="553" width="1" height="72" fill="#fff"/>
<rect x="323" y="553" width="1" height="72" fill="#808080"/>
<rect x="440" y="553" width="1" height="72" fill="#fff"/>
<rect x="441" y="553" width="1" height="72" fill="#808080"/>
<rect x="558" y="553" width="1" height="72" fill="#fff"/>
<rect x="559" y="553" width="1" height="72" fill="#808080"/>
<rect x="676" y="553" width="1" height="72" fill="#fff"/>
<rect x="677" y="553" width="1" height="72" fill="#808080"/>
<rect x="794" y="553" width="1" height="72" fill="#fff"/>
<rect x="795" y="553" width="1" height="72" fill="#808080"/>
<rect x="912" y="553" width="1" height="72" fill="#fff"/>
<rect x="913" y="553" width="1" height="72" fill="#808080"/>
</g>
<text class="b" transform="translate(8.3 571.0) scale(0.918 1)" fill="#000">Sensor</text>
<text class="b" transform="translate(8.3 587.0) scale(0.958 1)" fill="#000">MinWert</text>
<text class="b" transform="translate(8.3 603.0) scale(0.967 1)" fill="#000">MaxWert</text>
<text class="b" transform="translate(8.3 619.0) scale(0.934 1)" fill="#000">Durchschnitt</text>
<text class="b" transform="translate(95.0 571.0) scale(0.976 1)" fill="#000">Temp. A.</text>
<text class="b" transform="translate(198.5 571.0) scale(0.900 1)" fill="#000" text-anchor="end">°C</text>
<text transform="translate(101.0 587.0) scale(0.870 1)" fill="#000" stroke="#000">05:55</text>
<text transform="translate(198.5 587.0) scale(0.870 1)" fill="#000" stroke="#000" text-anchor="end">12.9</text>
<text transform="translate(101.0 603.0) scale(0.870 1)" fill="#000" stroke="#000">18:05</text>
<text transform="translate(198.5 603.0) scale(0.870 1)" fill="#000" stroke="#000" text-anchor="end">27.3</text>
<text transform="translate(198.5 619.0) scale(0.870 1)" fill="#000" stroke="#000" text-anchor="end">20.08</text>
<text class="b" transform="translate(213.0 571.0) scale(0.985 1)" fill="#000">Temp. I.</text>
<text class="b" transform="translate(316.5 571.0) scale(0.900 1)" fill="#000" text-anchor="end">°C</text>
<text transform="translate(219.0 587.0) scale(0.870 1)" fill="#000" stroke="#000">07:05</text>
<text transform="translate(316.5 587.0) scale(0.870 1)" fill="#000" stroke="#000" text-anchor="end">22.5</text>
<text transform="translate(219.0 603.0) scale(0.870 1)" fill="#000" stroke="#000">16:40</text>
<text transform="translate(316.5 603.0) scale(0.870 1)" fill="#000" stroke="#000" text-anchor="end">25.4</text>
<text transform="translate(316.5 619.0) scale(0.870 1)" fill="#000" stroke="#000" text-anchor="end">24.36</text>
<text class="b" transform="translate(685.0 571.0) scale(0.935 1)" fill="#000">Luftdruck</text>
<text class="b" transform="translate(788.5 571.0) scale(0.960 1)" fill="#000" text-anchor="end">hPa</text>
<text transform="translate(691.0 587.0) scale(0.870 1)" fill="#000" stroke="#000">18:30</text>
<text transform="translate(788.5 587.0) scale(0.870 1)" fill="#000" stroke="#000" text-anchor="end">1015.9</text>
<text transform="translate(691.0 603.0) scale(0.870 1)" fill="#000" stroke="#000">00:25</text>
<text transform="translate(788.5 603.0) scale(0.870 1)" fill="#000" stroke="#000" text-anchor="end">1021.1</text>
<text transform="translate(685.0 619.0) scale(0.920 1)" fill="#000" stroke="#000">^1.3hPa/h</text>
<text transform="translate(788.5 619.0) scale(0.870 1)" fill="#000" stroke="#000" text-anchor="end">1018.7</text>
<text class="b" transform="translate(803.0 571.0) scale(0.980 1)" fill="#000">Regen</text>
<text class="b" transform="translate(906.5 571.0) scale(0.990 1)" fill="#000" text-anchor="end">l/m²</text>
<text transform="translate(809.0 603.0) scale(0.870 1)" fill="#000" stroke="#000">00:00</text>
<text transform="translate(906.5 603.0) scale(0.870 1)" fill="#000" stroke="#000" text-anchor="end">0.0</text>
<text transform="translate(803.0 619.0) scale(0.820 1)" fill="#000" stroke="#000">Gesamt:</text>
<text transform="translate(906.5 619.0) scale(0.870 1)" fill="#000" stroke="#000" text-anchor="end">0.0</text>
<text class="b" transform="translate(921.0 571.0) scale(0.970 1)" fill="#000">Wind</text>
<text class="b" transform="translate(1022.0 571.0) scale(1.000 1)" fill="#000" text-anchor="end">km/h</text>
<text transform="translate(921.0 587.0) scale(0.810 1)" fill="#000" stroke="#000">Ø 10 min.</text>
<text transform="translate(1022.0 587.0) scale(0.870 1)" fill="#000" stroke="#000" text-anchor="end">5.1</text>
<text transform="translate(927.0 603.0) scale(0.870 1)" fill="#000" stroke="#000">12:50</text>
<text transform="translate(1022.0 603.0) scale(0.843 1)" fill="#000" stroke="#000" text-anchor="end">O-SO 8.9</text>
<text transform="translate(1022.0 619.0) scale(0.870 1)" fill="#000" stroke="#000" text-anchor="end">3.1</text>
</svg></body></html>
